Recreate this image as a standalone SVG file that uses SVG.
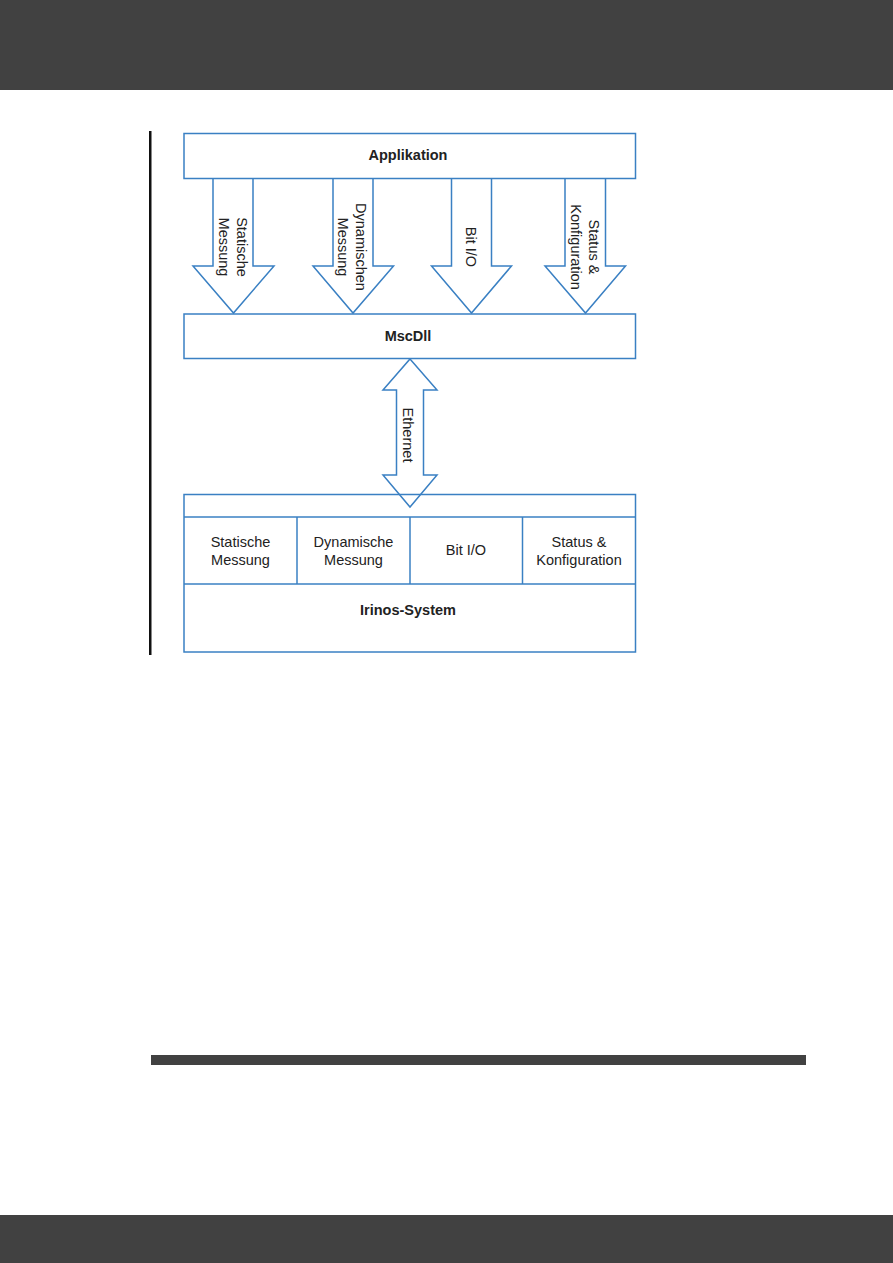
<svg xmlns="http://www.w3.org/2000/svg" width="893" height="1263" viewBox="0 0 893 1263">
<style>
.box{fill:#fff;stroke:#3a80c3;stroke-width:1.5}
.arr{fill:#fff;stroke:#3a80c3;stroke-width:1.5;stroke-linejoin:miter}
.t{font-family:"Liberation Sans",Arial,sans-serif;font-size:14.5px;fill:#222;text-anchor:middle}
.b{font-family:"Liberation Sans",Arial,sans-serif;font-size:14.5px;font-weight:bold;fill:#222;text-anchor:middle}
</style>
<rect x="0" y="0" width="893" height="1263" fill="#fff"/>
<rect x="0" y="0" width="893" height="90" fill="#414141"/>
<rect x="0" y="1215" width="893" height="48" fill="#414141"/>
<rect x="149" y="131" width="2.5" height="524" fill="#111"/>
<rect x="151" y="1055" width="655" height="10" fill="#414141"/>

<g id="connectors">
  <polygon class="arr" points="213,178 253,178 253,266 274,266 233.5,313 193,266 213,266"/>
  <polygon class="arr" points="333,178 373,178 373,266 393.5,266 353,313 313,266 333,266"/>
  <polygon class="arr" points="451.5,178 491.5,178 491.5,266 511.5,266 471.5,313 431.5,266 451.5,266"/>
  <polygon class="arr" points="565,178 605.5,178 605.5,266 625.5,266 585.5,313 545,266 565,266"/>
  <polygon class="arr" points="410,359 437,390 423.5,390 423.5,475 437,475 410,507 383,475 396.5,475 396.5,390 383,390"/>
  <g class="t">
    <text transform="translate(236.5,247) rotate(90)">Statische</text>
    <text transform="translate(218.5,247) rotate(90)">Messung</text>
    <text transform="translate(356,247) rotate(90)">Dynamischen</text>
    <text transform="translate(338,247) rotate(90)">Messung</text>
    <text transform="translate(466,247) rotate(90)">Bit I/O</text>
    <text transform="translate(589,247) rotate(90)">Status &amp;</text>
    <text transform="translate(571,247) rotate(90)">Konfiguration</text>
    <text transform="translate(403,435) rotate(90)">Ethernet</text>
  </g>
</g>

<g id="applikation">
  <rect class="box" x="184" y="133.5" width="451.5" height="45"/>
  <text class="b" x="408" y="160">Applikation</text>
</g>
<g id="mscdll">
  <rect class="box" x="184" y="314" width="451.5" height="44.5"/>
  <text class="b" x="408" y="341">MscDll</text>
</g>
<g id="irinos">
  <rect class="box" x="184" y="494.5" width="451.5" height="157.5" fill="none" style="fill:none"/>
  <line x1="184" y1="517" x2="635.5" y2="517" stroke="#3a80c3" stroke-width="1.5"/>
  <line x1="184" y1="584" x2="635.5" y2="584" stroke="#3a80c3" stroke-width="1.5"/>
  <text class="b" x="408" y="615">Irinos-System</text>
</g>
<g id="cell-statisch">
  <line x1="297" y1="517" x2="297" y2="584" stroke="#3a80c3" stroke-width="1.5"/>
  <text class="t" x="240.5" y="547">Statische</text>
  <text class="t" x="240.5" y="565">Messung</text>
</g>
<g id="cell-dynamisch">
  <line x1="410" y1="517" x2="410" y2="584" stroke="#3a80c3" stroke-width="1.5"/>
  <text class="t" x="353.5" y="547">Dynamische</text>
  <text class="t" x="353.5" y="565">Messung</text>
</g>
<g id="cell-bitio">
  <line x1="522.5" y1="517" x2="522.5" y2="584" stroke="#3a80c3" stroke-width="1.5"/>
  <text class="t" x="466" y="555">Bit I/O</text>
</g>
<g id="cell-status">
  <text class="t" x="579" y="547">Status &amp;</text>
  <text class="t" x="579" y="565">Konfiguration</text>
</g>
</svg>
